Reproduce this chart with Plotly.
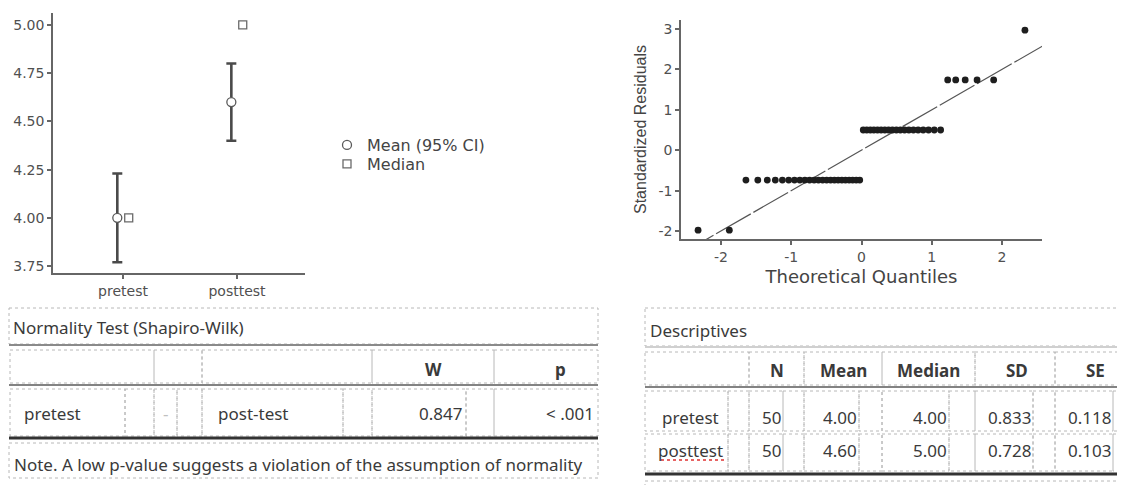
import plotly.graph_objects as go

# page has an 8px body margin: the figure is placed at (8, 8) in the 1125x485 window
OX, OY = 8, 8
W, H = 1125 - OX, 485 - OY

# ---------------- data ----------------
groups = ["pretest", "posttest"]
means = [4.00, 4.60]
medians = [4.00, 5.00]
ci_lower = [3.77, 4.40]
ci_upper = [4.23, 4.80]
ci_ticks = [3.75, 4.00, 4.25, 4.50, 4.75, 5.00]

qq_theoretical = [
    -2.326, -1.881, -1.645, -1.476, -1.341, -1.227, -1.126, -1.036, -0.954, -0.878,
    -0.806, -0.739, -0.674, -0.613, -0.553, -0.496, -0.440, -0.385, -0.332, -0.279,
    -0.228, -0.176, -0.126, -0.075, -0.025, 0.025, 0.075, 0.126, 0.176, 0.228,
    0.279, 0.332, 0.385, 0.440, 0.496, 0.553, 0.613, 0.674, 0.739, 0.806,
    0.878, 0.954, 1.036, 1.126, 1.227, 1.341, 1.476, 1.645, 1.881, 2.326,
]
qq_residuals = [
    -1.98, -1.98, -0.74, -0.74, -0.74, -0.74, -0.74, -0.74, -0.74, -0.74,
    -0.74, -0.74, -0.74, -0.74, -0.74, -0.74, -0.74, -0.74, -0.74, -0.74,
    -0.74, -0.74, -0.74, -0.74, -0.74, 0.50, 0.50, 0.50, 0.50, 0.50,
    0.50, 0.50, 0.50, 0.50, 0.50, 0.50, 0.50, 0.50, 0.50, 0.50,
    0.50, 0.50, 0.50, 0.50, 1.74, 1.74, 1.74, 1.74, 1.74, 2.97,
]
qq_line = [-2.6, 2.6]
qq_xticks = [-2, -1, 0, 1, 2]
qq_yticks = [-2, -1, 0, 1, 2, 3]

sw_title = "Normality Test (Shapiro-Wilk)"
sw_var1 = "pretest"
sw_sep = "-"
sw_var2 = "post-test"
sw_W = "0.847"
sw_p = "< .001"
sw_note = "Note. A low p-value suggests a violation of the assumption of normality"

desc_title = "Descriptives"
desc_headers = ["N", "Mean", "Median", "SD", "SE"]
desc_groups = ["pretest", "posttest"]
desc_N = [50, 50]
desc_mean = [4.00, 4.60]
desc_median = [4.00, 5.00]
desc_sd = [0.833, 0.728]
desc_se = [0.118, 0.103]


def dx(a, b):
    return [(a - OX) / W, (b - OX) / W]


def dy(top, bottom):
    return [1 - (bottom - OY) / H, 1 - (top - OY) / H]


# ---------------- figure ----------------
fig = go.Figure()

off = 0.05
fig.add_trace(go.Scatter(
    x=[i - off for i in range(len(groups))], y=means, mode="markers",
    name="Mean (95% CI)", xaxis="x", yaxis="y", legend="legend",
    error_y=dict(type="data", symmetric=False,
                 array=[u - m for u, m in zip(ci_upper, means)],
                 arrayminus=[m - l for m, l in zip(means, ci_lower)],
                 color="#4a4a4a", thickness=2.6, width=5),
    marker=dict(symbol="circle", size=9, color="white",
                line=dict(color="#5a5a5a", width=1.3)),
))
fig.add_trace(go.Scatter(
    x=[i + off for i in range(len(groups))], y=medians, mode="markers",
    name="Median", xaxis="x", yaxis="y", legend="legend2",
    marker=dict(symbol="square", size=8, color="white",
                line=dict(color="#6a6a6a", width=1.3)),
))

fig.add_trace(go.Scatter(
    x=qq_line, y=qq_line, mode="lines", showlegend=False, xaxis="x2", yaxis="y2",
    line=dict(color="#555555", width=1.2, dash="40px,3px"), hoverinfo="skip",
))
fig.add_trace(go.Scatter(
    x=qq_theoretical, y=qq_residuals, mode="markers", showlegend=False,
    xaxis="x2", yaxis="y2",
    marker=dict(symbol="circle", size=6.8, color="#1e1e1e"),
))

# overlay canvas for the tables (window pixel coordinates)
fig.add_trace(go.Scatter(x=[], y=[], xaxis="x3", yaxis="y3", showlegend=False,
                         hoverinfo="skip"))

tick_font = dict(family="DejaVu Sans", size=14, color="#505050")
leg_font = dict(family="DejaVu Sans", size=16, color="#444444")
axis_common = dict(showline=True, linecolor="#666666", linewidth=1.5,
                   ticks="outside", ticklen=4, tickcolor="#666666", tickwidth=1.5,
                   tickfont=tick_font, showgrid=False, zeroline=False, fixedrange=True)

fig.update_layout(
    width=W, height=H, margin=dict(l=0, r=0, t=0, b=0),
    paper_bgcolor="white", plot_bgcolor="rgba(0,0,0,0)",
    showlegend=True,
    legend=dict(x=(327 - OX) / W, y=1 - (145 - OY) / H, xanchor="left", yanchor="middle",
                font=leg_font, bgcolor="rgba(0,0,0,0)"),
    legend2=dict(x=(327 - OX) / W, y=1 - (164 - OY) / H, xanchor="left", yanchor="middle",
                 font=leg_font, bgcolor="rgba(0,0,0,0)"),
    xaxis=dict(domain=dx(53, 305), range=[-0.614, 1.596],
               tickvals=list(range(len(groups))), ticktext=groups, anchor="y",
               **axis_common),
    yaxis=dict(domain=dy(13, 273), range=[3.714, 5.062],
               tickvals=ci_ticks, tickformat=".2f", anchor="x", **axis_common),
    xaxis2=dict(domain=dx(681, 1042), range=[-2.569, 2.569],
                tickvals=qq_xticks, ticktext=[str(v) for v in qq_xticks], anchor="y2",
                title=dict(text="Theoretical Quantiles", standoff=7,
                           font=dict(family="DejaVu Sans", size=18, color="#444444")),
                **axis_common),
    yaxis2=dict(domain=dy(20, 239), range=[-2.198, 3.223],
                tickvals=qq_yticks, ticktext=[str(v) for v in qq_yticks], anchor="x2",
                title=dict(text="Standardized Residuals", standoff=8,
                           font=dict(family="Liberation Sans", size=16, color="#444444")),
                **axis_common),
    xaxis3=dict(domain=[0, 1], range=[OX, OX + W], visible=False, anchor="y3",
                fixedrange=True),
    yaxis3=dict(domain=[0, 1], range=[OY + H, OY], visible=False, anchor="x3",
                fixedrange=True),
)

# ---------------- tables ----------------
shapes = []
annos = []
DOT = "#b8b8b8"
TFONT = "Noto Sans"
TSIZE = 17


def cell(x0, y0, x1, y1):
    shapes.append(dict(type="rect", xref="x3", yref="y3", x0=x0, y0=y0, x1=x1, y1=y1,
                       line=dict(color=DOT, width=1, dash="dot"), layer="below"))


def hline(x0, x1, y, color, width):
    shapes.append(dict(type="line", xref="x3", yref="y3", x0=x0, x1=x1, y0=y, y1=y,
                       line=dict(color=color, width=width)))


def text(x, y, s, anchor="left", bold=False, color="#3a3a3a", size=TSIZE):
    if bold:
        s = "<b>" + s + "</b>"
    annos.append(dict(xref="x3", yref="y3", x=x, y=y, text=s, showarrow=False,
                      xanchor=anchor, yanchor="middle",
                      font=dict(family=TFONT, size=size, color=color)))


# Normality test table
cell(9, 308, 598, 344)
hline(9, 598, 345, "#8a8a8a", 2)
for a, b in [(10, 154), (154, 202), (202, 372), (372, 494), (494, 598)]:
    cell(a, 350, b, 383)
hline(9, 598, 385, "#5a5a5a", 1.5)
for a, b in [(10, 125), (125, 154), (154, 177), (177, 202), (202, 343), (343, 372),
             (372, 466), (466, 494), (494, 598)]:
    cell(a, 389, b, 436)
hline(9, 598, 438, "#333333", 3)
cell(9, 443, 598, 478)

text(11, 327, sw_title)
text(433, 369, "W", "center", bold=True)
text(560, 369, "p", "center", bold=True)
text(22, 413, sw_var1)
text(165, 413, sw_sep, "center", color="#c0c0c0")
text(216, 413, sw_var2)
text(464, 413, sw_W, "right")
text(596, 413, sw_p, "right")
text(12, 464, sw_note)

# Descriptives table
cell(645, 308, 1125, 346)
hline(645, 1125, 347, "#d0d0d0", 2)
for a, b in [(645, 749), (749, 804), (804, 882), (882, 975), (975, 1055), (1055, 1125)]:
    cell(a, 352, b, 385)
hline(645, 1125, 387, "#5a5a5a", 1.5)
desc_cells = [(645, 728), (728, 749), (749, 783), (783, 804), (804, 859), (859, 882),
              (882, 949), (949, 975), (975, 1033), (1033, 1055), (1055, 1113), (1113, 1125)]
for y0, y1 in [(391, 431), (434, 471)]:
    for a, b in desc_cells:
        cell(a, y0, b, y1)
hline(645, 1125, 474, "#333333", 3)
cell(645, 481, 1125, 490)

text(648, 330, desc_title)
for hx, h in zip([777, 843, 928, 1017, 1095], desc_headers):
    text(hx, 370, h, "center", bold=True)
row_y = [417, 450]
val_right = [783, 859, 949, 1033, 1113]
for r, g in enumerate(desc_groups):
    text(690, row_y[r], g, "center")
    vals = [str(desc_N[r]), f"{desc_mean[r]:.2f}", f"{desc_median[r]:.2f}",
            f"{desc_sd[r]:.3f}", f"{desc_se[r]:.3f}"]
    for xr, v in zip(val_right, vals):
        text(xr, row_y[r], v, "right")

# spell-check squiggle under "posttest"
shapes.append(dict(type="line", xref="x3", yref="y3", x0=661, x1=727, y0=460, y1=460,
                   line=dict(color="#e03030", width=1.5, dash="dot")))

fig.update_layout(shapes=shapes, annotations=annos)

fig.write_html("out.html")
